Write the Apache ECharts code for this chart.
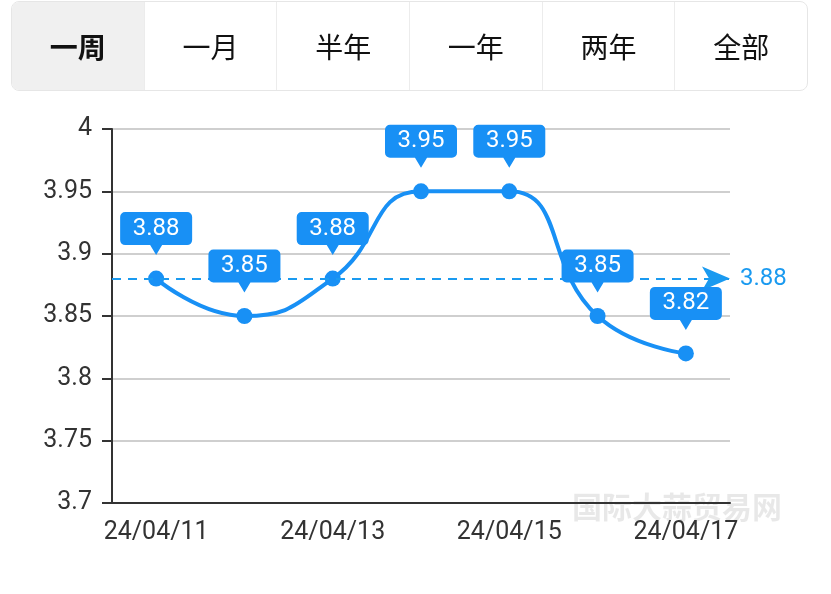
<!DOCTYPE html>
<html>
<head>
<meta charset="utf-8">
<script src="https://cdn.jsdelivr.net/npm/echarts@6/dist/echarts.min.js"></script>
<style>
  html, body { margin: 0; padding: 0; background: #fff; }
  #chart { position: absolute; left: 0; top: 0; width: 831px; height: 594px; }
  .tabs {
    position: absolute; left: 11px; top: 1px; width: 795px; height: 88px;
    border: 1px solid #e6e6e6; border-radius: 8px; overflow: hidden;
    display: flex; z-index: 2; background: #fff;
    font-family: "Noto Sans CJK SC", "Noto Sans", sans-serif;
  }
  .tab {
    flex: 1; display: flex; align-items: center; justify-content: center;
    font-size: 28px; color: #111; border-left: 1px solid #ececec;
  }
  .tab:first-child { border-left: none; background: #f0f0f0; font-weight: bold; }
</style>
</head>
<body>
<div class="tabs" id="tabs"></div>
<div id="chart"></div>
<script>
// Range tabs above the chart
const tabNames = ['一周', '一月', '半年', '一年', '两年', '全部'];

// Daily prices for the last week
const dates = ['24/04/11', '24/04/12', '24/04/13', '24/04/14', '24/04/15', '24/04/16', '24/04/17'];
const prices = [3.88, 3.85, 3.88, 3.95, 3.95, 3.85, 3.82];

// Value axis range
const yMin = 3.7;
const yMax = 4;
const yStep = 0.05;

const tabsEl = document.getElementById('tabs');
tabNames.forEach(function (name) {
  const d = document.createElement('div');
  d.className = 'tab';
  d.textContent = name;
  tabsEl.appendChild(d);
});

const blue = '#1890f5';
// Callout bubble: rounded box with a pointer at the bottom centre
const bubble = 'path://M5,0 H67 A5,5 0 0 1 72,5 V28 A5,5 0 0 1 67,33 H42 L36,43 L30,33 H5 A5,5 0 0 1 0,28 V5 A5,5 0 0 1 5,0 Z';

const chart = echarts.init(document.getElementById('chart'), null, { renderer: 'canvas' });
chart.setOption({
  animation: false,
  textStyle: { fontFamily: 'Roboto, "Noto Sans", sans-serif' },
  grid: { left: 112, right: 101, top: 129, bottom: 91 },
  xAxis: {
    type: 'category',
    data: dates,
    boundaryGap: true,
    axisLine: { lineStyle: { color: '#333', width: 2 } },
    axisTick: {
      alignWithLabel: true,
      length: 9,
      interval: function (i) { return i % 2 === 1; },
      lineStyle: { color: '#333', width: 2 }
    },
    axisLabel: { interval: 1, color: '#333', fontSize: 25, margin: 17 }
  },
  yAxis: {
    type: 'value',
    min: yMin,
    max: yMax,
    interval: yStep,
    axisLine: { show: true, lineStyle: { color: '#333', width: 2 } },
    axisTick: { show: true, length: 10, lineStyle: { color: '#333', width: 2 } },
    axisLabel: { color: '#333', fontSize: 25, margin: 20 },
    splitLine: { lineStyle: { color: '#cfcfcf', width: 2 } }
  },
  graphic: [{
    type: 'text',
    left: 572, top: 492, z: -1,
    style: { text: '国际大蒜贸易网', fontSize: 30, fontWeight: 'bold',
      fill: 'rgba(0,0,0,0.09)', fontFamily: '"Noto Sans CJK SC", sans-serif' }
  }],
  series: [{
    type: 'line',
    data: prices,
    smooth: true,
    symbol: 'circle',
    symbolSize: 16,
    itemStyle: { color: blue },
    lineStyle: { color: blue, width: 4 },
    markPoint: {
      symbol: bubble,
      symbolSize: [72, 43],
      symbolOffset: [0, -45],
      itemStyle: { color: blue },
      label: { show: true, color: '#fff', fontSize: 24, offset: [0, -5],
        formatter: function (p) { return p.value.toFixed(2); } },
      data: prices.map(function (v, i) { return { coord: [i, v], value: v }; })
    },
    markLine: {
      silent: true,
      symbol: ['none', 'arrow'],
      symbolSize: [18, 28],
      lineStyle: { color: '#1a9af0', type: [9, 7], width: 2 },
      label: { color: '#1a9af0', fontSize: 24, distance: 10,
        formatter: function (p) { return p.value.toFixed(2); } },
      data: [{ type: 'average' }]
    }
  }]
});
</script>
</body>
</html>
